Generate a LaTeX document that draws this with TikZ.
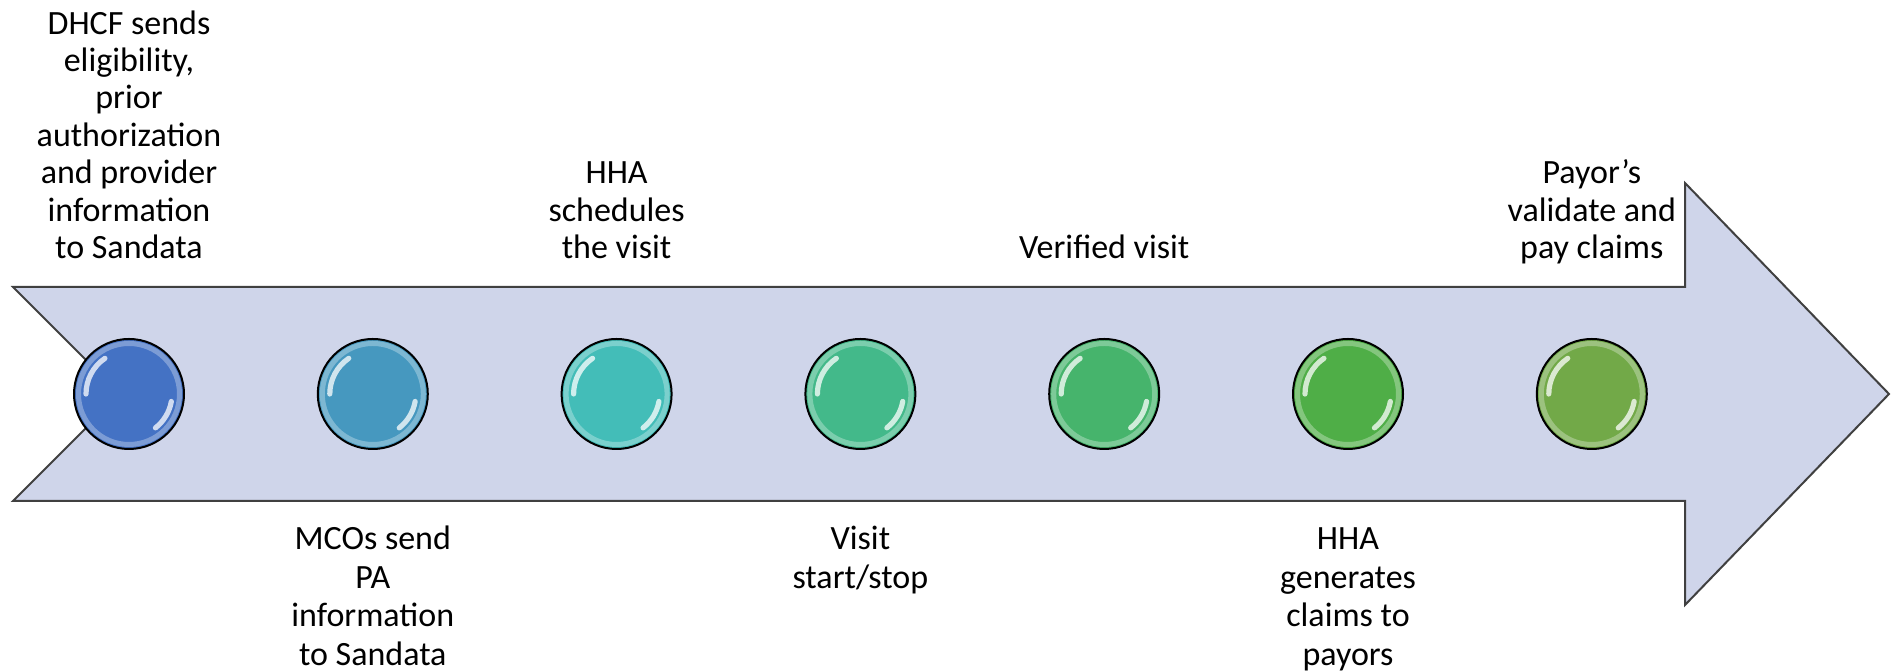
\documentclass[tikz,border=0pt]{standalone}
\usepackage{fontspec}
\setmainfont{Carlito}
\definecolor{arrowfill}{HTML}{CFD5EA}
\definecolor{arrowline}{HTML}{404040}
\definecolor{ballA}{HTML}{4472C4}
\definecolor{ballB}{HTML}{4698BF}
\definecolor{ballC}{HTML}{43BDB8}
\definecolor{ballD}{HTML}{43B98A}
\definecolor{ballE}{HTML}{46B46C}
\definecolor{ballF}{HTML}{4FAE47}
\definecolor{ballG}{HTML}{72A948}

\begin{document}
\begin{tikzpicture}[x=0.5pt,y=0.5pt,
  ball/.style={circle, draw=black, line width=1pt, minimum size=55pt, inner sep=0pt},
  gloss/.style={white, opacity=0.75, line width=2.6pt, line cap=round},
  toplabel/.style={anchor=south, align=center, inner sep=0pt, font=\fontsize{17}{18.7}\selectfont},
  botlabel/.style={anchor=north, align=center, inner sep=0pt, font=\fontsize{17}{19.2}\selectfont}]
\useasboundingbox (0,0) rectangle (1891,672);

% Big arrow
\draw[arrowline, fill=arrowfill, line width=1pt] (13,385) -- (1685,385) -- (1685,489) -- (1889,278)
  -- (1685,67) -- (1685,171) -- (13,171) -- (120,278) -- cycle;

% Steps
\foreach \i/\x/\col in {1/129/ballA, 2/372.8/ballB, 3/616.6/ballC, 4/860.4/ballD,
  5/1104.2/ballE, 6/1348/ballF, 7/1591.8/ballG} {
  \node[ball, fill=\col] (c\i) at (\x,278) {};
  \draw[white, opacity=0.3, line width=2.5pt] (c\i.center) circle (50.5);
  \draw[gloss] ([shift={(124:43)}]c\i.center) arc (124:180:43);
  \draw[gloss] ([shift={(-10:43)}]c\i.center) arc (-10:-52:43);
}

% Labels above
\node[toplabel] (t1) at (c1 |- 0,401.8) {DHCF sends\\eligibility,\\prior\\authorization\\and provider\\information\\to Sandata\strut};
\node[toplabel] (t3) at (c3 |- 0,401.8) {HHA\\schedules\\the visit\strut};
\node[toplabel] (t5) at (c5 |- 0,401.8) {Verified visit\strut};
\node[toplabel] (t7) at (c7 |- 0,401.8) {Payor’s\\validate and\\pay claims\strut};

% Labels below
\node[botlabel] (b2) at (c2 |- 0,149.3) {\strut MCOs send\\PA\\information\\to Sandata};
\node[botlabel] (b4) at (c4 |- 0,149.3) {\strut Visit\\start/stop};
\node[botlabel] (b6) at (c6 |- 0,149.3) {\strut HHA\\generates\\claims to\\payors};
\end{tikzpicture}
\end{document}
